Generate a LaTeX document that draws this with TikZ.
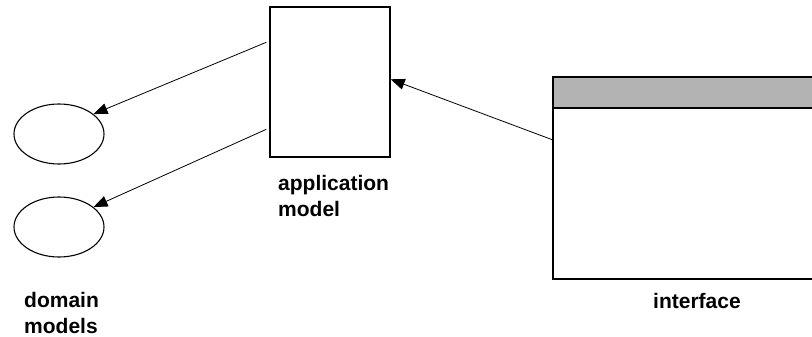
\documentclass[tikz,border=0pt]{standalone}
\usepackage{fontspec}
\setmainfont{Liberation Sans}
\usetikzlibrary{arrows.meta,calc,shapes.geometric}
\definecolor{barGray}{HTML}{B3B3B3}
\begin{document}
\begin{tikzpicture}[x=1pt,y=-1pt,
  box/.style={draw,line width=1.4pt,rectangle,inner sep=0pt},
  dmodel/.style={draw,line width=1.1pt,ellipse,inner sep=0pt,minimum width=90pt,minimum height=60pt},
  link/.style={line width=0.8pt,-{Triangle[length=14pt,width=11pt]}},
  lbl/.style={font=\bfseries\fontsize{21}{26}\selectfont,anchor=base west,inner sep=0pt,align=left}]
  \useasboundingbox (0,0) rectangle (812,337);

  % application model box
  \node[box,minimum width=120pt,minimum height=150pt] (app) at (330,82) {};
  % domain models
  \node[dmodel] (dm1) at (59,134) {};
  \node[dmodel] (dm2) at (59,227) {};
  % interface window (runs past the right edge)
  \node[box,minimum width=280pt,minimum height=201pt,anchor=north west] (iface) at (553,77) {};
  \fill[barGray] ($(iface.north west)+(0.7,0.7)$) rectangle ($(iface.north east)+(0,31)$);
  \draw[line width=1.4pt] ($(iface.north west)+(0,31)$) -- ($(iface.north east)+(0,31)$);
  \draw[line width=1.4pt] (iface.north west) rectangle (iface.south east);

  % connectors
  \draw[link] ($(app.north west)+(-3,36)$) -- (dm1.30);
  \draw[link] ($(app.north west)+(-3,123)$) -- (dm2.30);
  \draw[link] ($(iface.north west)+(0,63)$) -- ($(app.north east)+(0,73)$);

  % labels (base anchor sits on the last line)
  \node[lbl] (applbl) at (278,216) {application\\model};
  \node[lbl] (dmlbl) at (24,333) {domain\\models};
  \node[lbl] (iflbl) at (653,308) {interface};
\end{tikzpicture}
\end{document}
